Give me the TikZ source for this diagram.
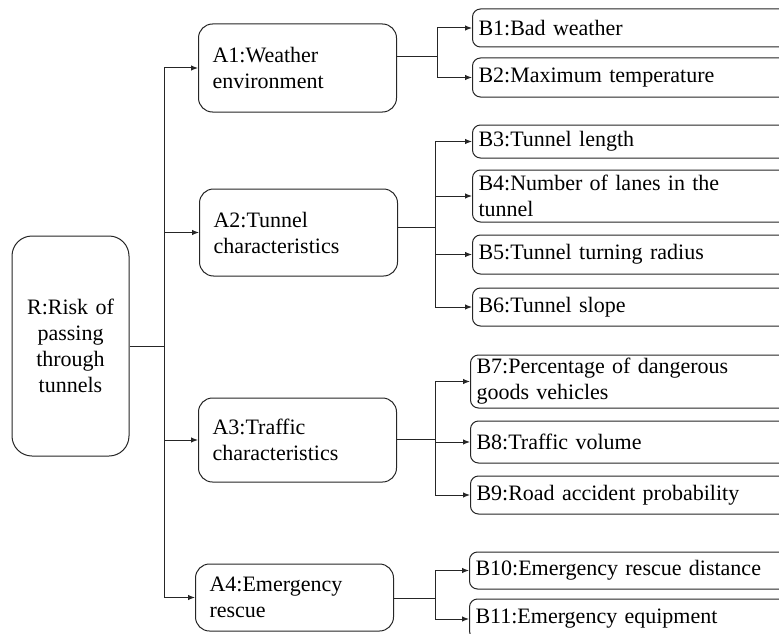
\documentclass[tikz,border=0pt]{standalone}
\usepackage{fontspec}
\setmainfont{Liberation Serif}
\usetikzlibrary{arrows.meta}

\newcommand{\lbl}{\fontsize{22}{26}\selectfont}

\begin{document}
\begin{tikzpicture}[x=1pt,y=-1pt,line width=1pt,draw=black!85,
    arr/.style={-{Latex[length=7pt,width=5.5pt]}},
    rbox/.style={draw=black!85,fill=white,rounded corners=20pt,text width=105pt,inner xsep=6pt,align=center,font=\lbl},
    abox/.style={draw=black!85,fill=white,rounded corners=14pt,anchor=west,text width=170pt,inner xsep=14pt,inner ysep=2pt,align=left,font=\lbl},
    bbox/.style={draw=black!85,fill=white,rounded corners=8pt,anchor=west,text width=330pt,inner xsep=6pt,inner ysep=2pt,align=left,font=\lbl}]
  \useasboundingbox (0,0) rectangle (779,634);
  \clip (0,0) rectangle (779,634);

  \node[rbox,minimum height=220pt] (R) at (70.5,346) {R:Risk of\\passing\\through\\tunnels};

  \node[abox,minimum height=88pt] (A1) at (198,68) {A1:Weather\\environment};
  \node[abox,minimum height=87pt] (A2) at (199,232.5) {A2:Tunnel\\characteristics};
  \node[abox,minimum height=84pt] (A3) at (198,440) {A3:Traffic\\characteristics};
  \node[abox,minimum height=67pt] (A4) at (195,597.5) {A4:Emergency\\rescue};

  \node[bbox,minimum height=38pt] (B1) at (472,28) {B1:Bad weather};
  \node[bbox,minimum height=39pt] (B2) at (472,77.5) {B2:Maximum temperature};
  \node[bbox,minimum height=33pt] (B3) at (472,141.5) {B3:Tunnel length};
  \node[bbox,minimum height=52pt] (B4) at (472,196) {B4:Number of lanes in the\\tunnel};
  \node[bbox,minimum height=39pt] (B5) at (472,254.5) {B5:Tunnel turning radius};
  \node[bbox,minimum height=38pt] (B6) at (472,307) {B6:Tunnel slope};
  \node[bbox,minimum height=53pt] (B7) at (470,381.5) {B7:Percentage of dangerous\\goods vehicles};
  \node[bbox,minimum height=42pt] (B8) at (470,442) {B8:Traffic volume};
  \node[bbox,minimum height=38pt] (B9) at (470,495) {B9:Road accident probability};
  \node[bbox,minimum height=37pt] (B10) at (469,570.5) {B10:Emergency rescue distance};
  \node[bbox,minimum height=40pt] (B11) at (469,619) {B11:Emergency equipment};

  % trunk from R to the A boxes
  \coordinate (t) at (164,346);
  \draw (R.east) -- (t);
  \draw[arr] (t) |- (A1.west);
  \draw[arr] (t) |- (A2.west);
  \draw[arr] (t) |- (A3.west);
  \draw[arr] (t) |- (A4.west);

  % branches to the B boxes
  \coordinate (j1) at (437,57);
  \draw (A1.east |- j1) -- (j1);
  \draw[arr] (j1) |- (B1.west);
  \draw[arr] (j1) |- (B2.west);

  \coordinate (j2) at (435,227);
  \draw (A2.east |- j2) -- (j2);
  \draw[arr] (j2) |- (B3.west);
  \draw[arr] (j2) |- (B4.west);
  \draw[arr] (j2) |- (B5.west);
  \draw[arr] (j2) |- (B6.west);

  \coordinate (j3) at (435,439);
  \draw (A3.east |- j3) -- (j3);
  \draw[arr] (j3) |- (B7.west);
  \draw[arr] (j3) |- (B8.west);
  \draw[arr] (j3) |- (B9.west);

  \coordinate (j4) at (435,598);
  \draw (A4.east |- j4) -- (j4);
  \draw[arr] (j4) |- (B10.west);
  \draw[arr] (j4) |- (B11.west);
\end{tikzpicture}
\end{document}
